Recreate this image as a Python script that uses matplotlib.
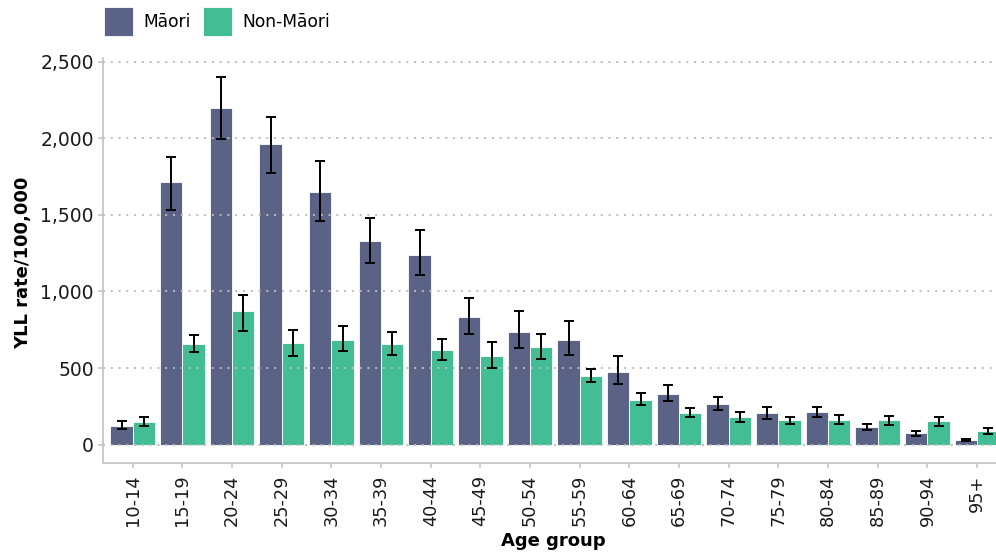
import matplotlib
matplotlib.use("Agg")
import matplotlib.pyplot as plt
import numpy as np
from matplotlib.patches import Patch

# Years of life lost (YLL) per 100,000 by age group, with 95% confidence limits
age_groups = ["10-14", "15-19", "20-24", "25-29", "30-34", "35-39", "40-44", "45-49",
              "50-54", "55-59", "60-64", "65-69", "70-74", "75-79", "80-84", "85-89",
              "90-94", "95+"]

maori_rate = [125, 1712, 2200, 1960, 1649, 1329, 1240, 831, 735, 685, 472, 332, 268,
              207, 211, 115, 74, 33]
maori_lower = [104, 1532, 1997, 1771, 1460, 1186, 1105, 724, 629, 585, 396, 287, 228,
               170, 181, 98, 59, 26]
maori_upper = [152, 1880, 2402, 2139, 1852, 1480, 1401, 957, 872, 807, 577, 390, 311,
               248, 248, 133, 89, 39]

non_maori_rate = [148, 657, 875, 666, 683, 657, 620, 581, 637, 450, 294, 204, 181,
                  159, 161, 159, 157, 91]
non_maori_lower = [124, 603, 742, 577, 609, 583, 555, 498, 561, 407, 259, 178, 150,
                   133, 133, 128, 124, 70]
non_maori_upper = [178, 718, 979, 751, 775, 733, 688, 672, 722, 494, 339, 237, 213,
                   181, 191, 185, 178, 109]

series_names = ["Māori", "Non-Māori"]
y_ticks = [0, 500, 1000, 1500, 2000, 2500]

MAORI_COLOR = "#5a6285"
NON_MAORI_COLOR = "#43be94"
AXIS_GREY = "#c6c6c6"

plt.rcParams["font.family"] = ["DejaVu Sans"]

W, H = 996, 558
fig = plt.figure(figsize=(W / 100, H / 100), dpi=100)
left_px, right_px, top_px, bottom_px = 103, 996, 58, 463
ax = fig.add_axes([left_px / W, 1 - bottom_px / H,
                   (right_px - left_px) / W, (bottom_px - top_px) / H])

x = np.arange(len(age_groups))
bw = 0.45

def draw_series(offset, rate, lower, upper, color):
    rate = np.asarray(rate, float)
    err = np.vstack([rate - np.asarray(lower, float), np.asarray(upper, float) - rate])
    ax.bar(x + offset, rate, width=bw, color=color, edgecolor="white",
           linewidth=0.6, zorder=1)
    ax.errorbar(x + offset, rate, yerr=err, fmt="none", ecolor="black",
                elinewidth=1.4, capsize=3.9, capthick=1.4, zorder=3)

draw_series(-bw / 2, maori_rate, maori_lower, maori_upper, MAORI_COLOR)
draw_series(bw / 2, non_maori_rate, non_maori_lower, non_maori_upper, NON_MAORI_COLOR)

# Axes ranges
ax.set_xlim(-0.598, 17.38)
ax.set_ylim(-119.5, 2524)

ax.set_yticks(y_ticks)
ax.set_yticklabels([f"{v:,}" for v in y_ticks])
ax.set_xticks(x)
ax.set_xticklabels(age_groups, rotation=90)

# Dotted horizontal grid drawn over the bars
ax.set_axisbelow(False)
ax.yaxis.grid(True, color="#bdbdbd", linewidth=1.4, linestyle=(0, (1, 3)))
ax.xaxis.grid(False)

for side in ("top", "right"):
    ax.spines[side].set_visible(False)
for side in ("left", "bottom"):
    ax.spines[side].set_color(AXIS_GREY)
    ax.spines[side].set_linewidth(1.3)

ax.tick_params(axis="both", colors=AXIS_GREY, length=3.5, width=1.2)
ax.tick_params(axis="y", labelsize=13.5, labelcolor="#1a1a1a", pad=3)
ax.tick_params(axis="x", labelsize=12.8, labelcolor="#1a1a1a", pad=5)

ax.set_xlabel("Age group", fontsize=13, fontweight="bold", color="black")
ax.xaxis.set_label_coords(0.504, -0.170)
ax.set_ylabel("YLL rate/100,000", fontsize=13, fontweight="bold", color="black")
ax.yaxis.set_label_coords(-0.0795, 0.495)

handles = [Patch(facecolor=MAORI_COLOR, edgecolor="white", linewidth=0.6),
           Patch(facecolor=NON_MAORI_COLOR, edgecolor="white", linewidth=0.6)]
fig.legend(handles, series_names, loc="upper left",
           bbox_to_anchor=(104 / W, 1 - 7 / H), ncol=2, frameon=False,
           fontsize=12.3, handlelength=1.72, handleheight=2.2,
           handletextpad=0.6, columnspacing=0.7, borderpad=0, borderaxespad=0)

fig.savefig("out.png", dpi=100)
